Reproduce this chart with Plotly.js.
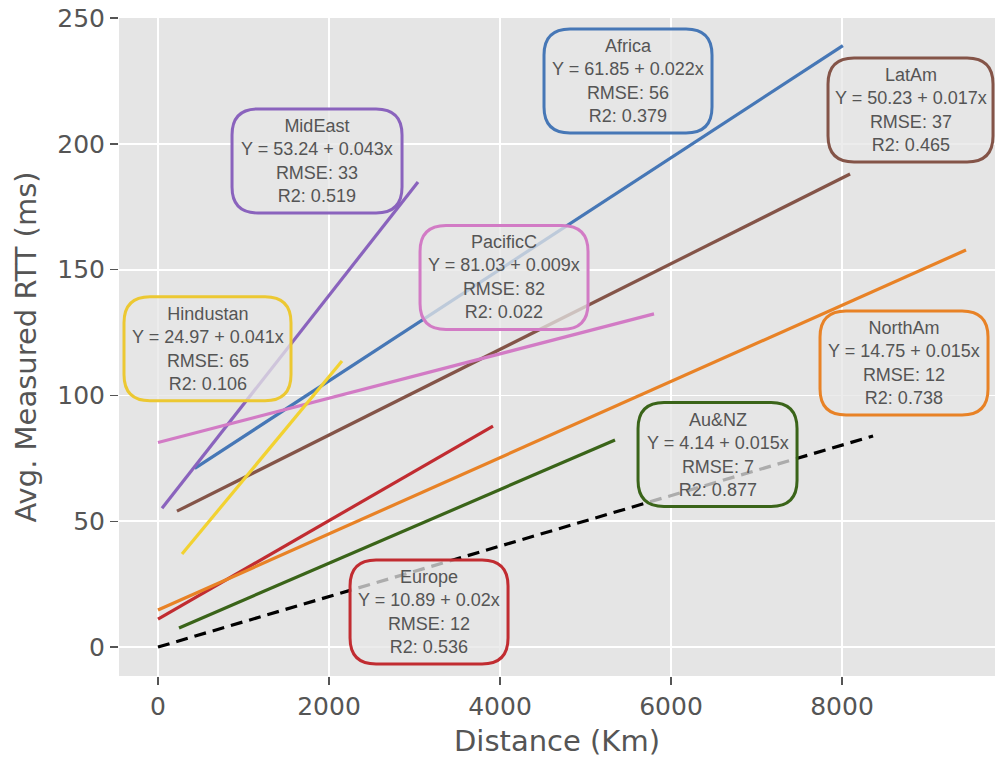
<!DOCTYPE html>
<html>
<head>
<meta charset="utf-8">
<script src="https://cdn.plot.ly/plotly-3.0.1.min.js"></script>
<style>html,body{margin:0;padding:0;background:#fff;}#chart{width:995px;height:760px;}</style>
</head>
<body>
<div id="chart"></div>
<script>
// ---- data ----
const regions    = ['Africa', 'MidEast', 'LatAm', 'PacificC', 'Hindustan', 'Europe', 'NorthAm', 'Au&NZ'];
const intercepts = [61.85, 53.24, 50.23, 81.03, 24.97, 10.89, 14.75, 4.14];
const slopes     = [0.022, 0.043, 0.017, 0.009, 0.041, 0.02, 0.015, 0.015];
const rmse       = [56, 33, 37, 82, 65, 12, 12, 7];
const r2         = ['0.379', '0.519', '0.465', '0.022', '0.106', '0.536', '0.738', '0.877'];
// fitted-line end points
const xStart = [430, 47, 222, 0, 281, 0, 0, 246];
const xEnd   = [8010, 3041, 8094, 5801, 2152, 3918, 9450, 5345];
const yStart = [71, 55.2, 54, 81.3, 37, 11.1, 14.7, 7.6];
const yEnd   = [239, 184.8, 188, 132.4, 113.7, 87.8, 157.8, 82.3];
// reference (speed-of-light) line
const refX = [0, 8363];
const refY = [0, 83.9];

// ---- styles / label placement ----
const colors = ['#4677b6', '#8a63bd', '#845448', '#d27bc5', '#f2d231', '#c12c31', '#e88226', '#3a6419'];
const boxColors = ['#4677b6', '#8a63bd', '#845448', '#d27bc5', '#ecc832', '#c12c31', '#e88226', '#3a6419'];
const labelX = [5497, 1860, 8801, 4047, 579, 3170, 8725, 6544];
const labelY = [225.0, 193.2, 213.4, 146.9, 118.6, 13.9, 112.9, 76.5];
const boxW   = [168, 170, 165, 168, 167, 158, 168, 159];
const boxH = 104, boxR = 26;

function roundRect(w, h, r) {
  const a = w / 2, b = h / 2;
  return `M ${-a + r},${-b} L ${a - r},${-b} Q ${a},${-b} ${a},${-b + r} ` +
         `L ${a},${b - r} Q ${a},${b} ${a - r},${b} L ${-a + r},${b} ` +
         `Q ${-a},${b} ${-a},${b - r} L ${-a},${-b + r} Q ${-a},${-b} ${-a + r},${-b} Z`;
}

const traces = [{
  x: refX, y: refY, mode: 'lines', type: 'scatter',
  line: {color: '#000000', width: 3.2, dash: '12px,7px'}, hoverinfo: 'skip'
}];
regions.forEach((r, i) => {
  traces.push({
    x: [xStart[i], xEnd[i]], y: [yStart[i], yEnd[i]], name: r,
    mode: 'lines', type: 'scatter',
    line: {color: colors[i], width: 3.2}
  });
});

const shapes = regions.map((r, i) => ({
  type: 'path', xref: 'x', yref: 'y',
  xsizemode: 'pixel', ysizemode: 'pixel',
  xanchor: labelX[i], yanchor: labelY[i],
  path: roundRect(boxW[i], boxH, boxR),
  line: {color: boxColors[i], width: 3},
  fillcolor: 'rgba(229,229,229,0.75)',
  layer: 'above'
}));

const annotations = regions.map((r, i) => ({
  x: labelX[i], y: labelY[i], xref: 'x', yref: 'y',
  text: `${r}<br>Y = ${intercepts[i]} + ${slopes[i]}x<br>RMSE: ${rmse[i]}<br>R2: ${r2[i]}`,
  showarrow: false, align: 'center',
  font: {family: 'Liberation Sans, Arial, sans-serif', size: 18, color: '#555555'}
}));

const tickFont = {family: 'DejaVu Sans, sans-serif', size: 25, color: '#555555'};
const titleFont = {family: 'DejaVu Sans, sans-serif', size: 29, color: '#555555'};

const layout = {
  width: 995, height: 760,
  margin: {l: 119, r: 0, t: 18, b: 84},
  paper_bgcolor: '#ffffff', plot_bgcolor: '#e5e5e5',
  showlegend: false,
  xaxis: {
    range: [-456, 9789], tickvals: [0, 2000, 4000, 6000, 8000],
    ticks: 'outside', ticklen: 8, tickwidth: 1.5, tickcolor: '#555555',
    tickfont: tickFont, gridcolor: '#ffffff', gridwidth: 1.8,
    zeroline: false, showline: false,
    title: {text: 'Distance (Km)', font: titleFont, standoff: 10}
  },
  yaxis: {
    range: [-11.5, 250], tickvals: [0, 50, 100, 150, 200, 250],
    ticks: 'outside', ticklen: 8, tickwidth: 1.5, tickcolor: '#555555',
    tickfont: tickFont, gridcolor: '#ffffff', gridwidth: 1.8,
    zeroline: false, showline: false,
    title: {text: 'Avg. Measured RTT (ms)', font: titleFont, standoff: 12}
  },
  shapes: shapes,
  annotations: annotations
};

Plotly.newPlot('chart', traces, layout, {displayModeBar: false, staticPlot: true});
</script>
</body>
</html>
